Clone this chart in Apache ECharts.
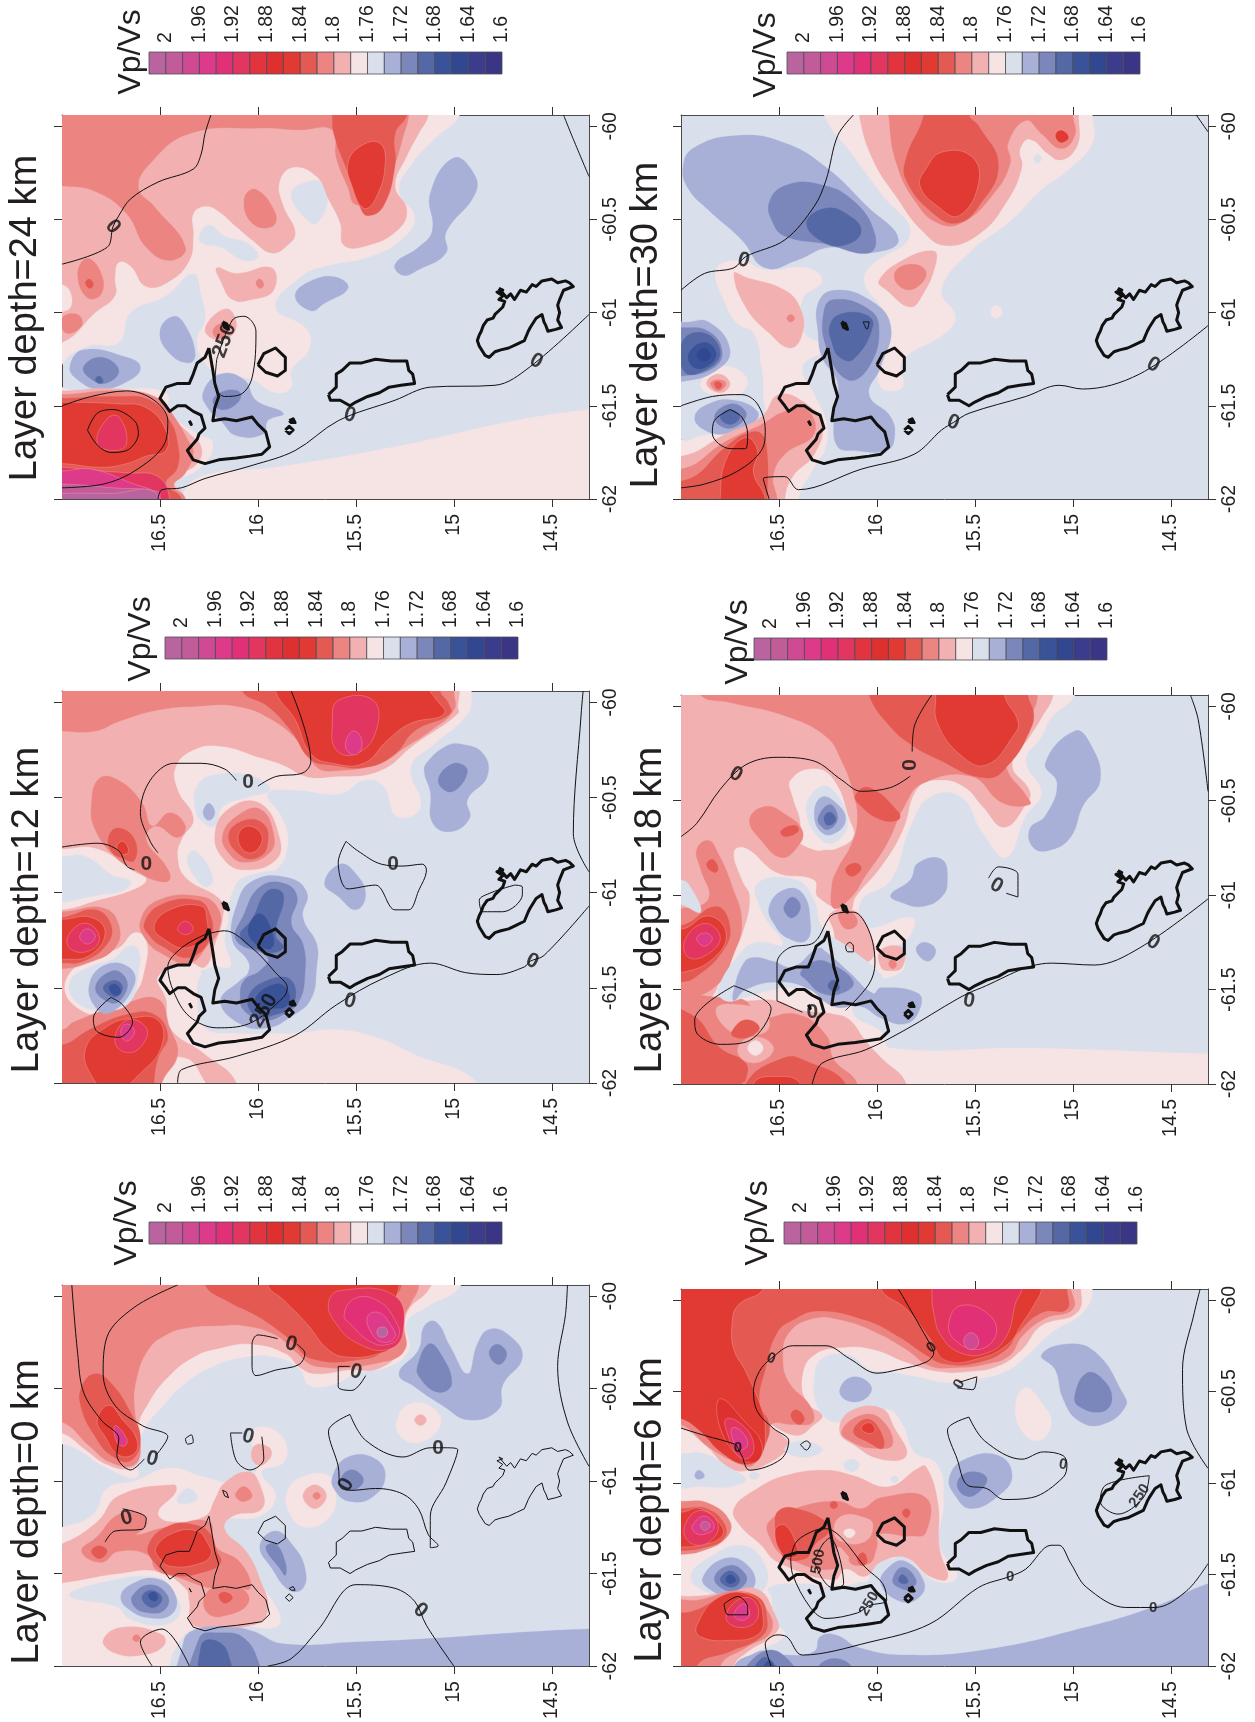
<!DOCTYPE html>
<html><head><meta charset="utf-8">
<style>html,body{margin:0;padding:0;background:#fff}#c{width:1255px;height:1722px}</style>
<script src="https://cdn.jsdelivr.net/npm/echarts@6/dist/echarts.min.js"></script>
</head><body><div id="c"></div>
<script>
// Colour scale: lower bound of each Vp/Vs class, and class colour
const barLevels=[2.0,1.98,1.96,1.94,1.92,1.90,1.88,1.86,1.84,1.82,1.80,1.78,1.76,1.74,1.72,1.70,1.68,1.66,1.64,1.62,1.60];
const barColors=['#B9649F','#C25C98','#CF4A93','#DD3A8A','#E23077','#E2355F','#E2343F','#DF3030','#E03A33','#E45A52','#EC8581','#F2B0B0','#F6E3E3','#DADFEC','#A8B0D8','#7B87BA','#5468A6','#3A5298','#31478F','#3C3C8C','#3A3585'];
const barTicks=[1.6,1.64,1.68,1.72,1.76,1.8,1.84,1.88,1.92,1.96,2];
const latTicks=[14.5,15,15.5,16,16.5];
const lonTicks=[-62,-61.5,-61,-60.5,-60];

// Coastlines [lat,lon,...]
const martinique=[14.77,-60.87,14.75,-60.88,14.78,-60.89,14.75,-60.91,14.77,-60.93,14.74,-60.94,14.75,-60.97,14.77,-60.99,14.79,-61.01,14.8,-61.03,14.83,-61.04,14.85,-61.07,14.86,-61.1,14.87,-61.12,14.88,-61.15,14.87,-61.18,14.84,-61.23,14.82,-61.24,14.79,-61.21,14.76,-61.2,14.72,-61.19,14.68,-61.17,14.64,-61.15,14.62,-61.1,14.61,-61.08,14.58,-61.03,14.55,-61.01,14.54,-61.05,14.53,-61.07,14.52,-61.1,14.48,-61.09,14.45,-61.08,14.47,-61.04,14.46,-61.0,14.47,-60.96,14.46,-60.93,14.44,-60.88,14.39,-60.86,14.41,-60.84,14.43,-60.83,14.47,-60.84,14.5,-60.82,14.55,-60.83,14.58,-60.86,14.6,-60.85,14.63,-60.89,14.66,-60.88,14.69,-60.93,14.71,-60.9,14.73,-60.92,14.77,-60.87];
const dominica=[15.64,-61.44,15.62,-61.42,15.6,-61.4,15.6,-61.33,15.57,-61.31,15.53,-61.27,15.47,-61.27,15.4,-61.25,15.32,-61.26,15.24,-61.26,15.23,-61.31,15.21,-61.33,15.2,-61.38,15.27,-61.39,15.33,-61.4,15.38,-61.43,15.44,-61.45,15.5,-61.48,15.53,-61.5,15.58,-61.47,15.63,-61.47,15.64,-61.44];
const guadeloupe=[16.25,-61.19,16.27,-61.24,16.31,-61.27,16.33,-61.33,16.35,-61.38,16.41,-61.38,16.47,-61.4,16.5,-61.46,16.47,-61.5,16.45,-61.53,16.41,-61.5,16.37,-61.5,16.33,-61.53,16.29,-61.55,16.27,-61.62,16.3,-61.65,16.31,-61.68,16.36,-61.74,16.33,-61.79,16.27,-61.81,16.2,-61.79,16.11,-61.78,16.04,-61.77,15.98,-61.76,15.94,-61.72,15.96,-61.64,16.0,-61.6,16.03,-61.56,16.11,-61.58,16.17,-61.57,16.23,-61.58,16.22,-61.51,16.2,-61.45,16.22,-61.38,16.23,-61.31,16.25,-61.19];
const marieGalante=[16.0,-61.28,15.97,-61.22,15.91,-61.19,15.86,-61.24,15.86,-61.31,15.9,-61.34,15.96,-61.32,16.0,-61.28];
const saintesA=[15.86,-61.63,15.84,-61.61,15.82,-61.63,15.84,-61.65,15.86,-61.63];
const saintesB=[15.84,-61.58,15.82,-61.57,15.81,-61.59,15.83,-61.59,15.84,-61.58];
const desirade=[16.18,-61.05,16.16,-61.06,16.15,-61.09,16.17,-61.08,16.18,-61.05];
const ilet=[16.35,-61.58,16.34,-61.58,16.34,-61.6,16.35,-61.6,16.35,-61.58];

// ===== Depth 0 km =====
const bands0=[
[1.76,[17.2,-59.8,14.95,-59.8,14.97,-59.95,15.14,-60.06,15.24,-60.14,15.23,-60.29,15.33,-60.38,15.5,-60.42,15.62,-60.48,15.74,-60.48,15.79,-60.39,15.91,-60.33,16.07,-60.33,16.23,-60.38,16.37,-60.47,16.49,-60.6,16.58,-60.72,16.62,-60.86,16.62,-60.98,16.77,-60.93,16.92,-60.83,17,-60.8,17.2,-60.78]],
[1.78,[17.2,-59.8,15.1,-59.8,15.12,-59.95,15.24,-60.09,15.26,-60.27,15.38,-60.39,15.54,-60.4,15.7,-60.42,15.78,-60.39,15.86,-60.31,16.03,-60.26,16.19,-60.28,16.33,-60.33,16.47,-60.45,16.56,-60.58,16.61,-60.7,16.6,-60.86,16.65,-60.93,16.77,-60.91,16.88,-60.83,17,-60.74,17.2,-60.7]],
[1.80,[17.2,-59.8,15.18,-59.8,15.18,-59.95,15.22,-60.04,15.26,-60.13,15.25,-60.29,15.38,-60.36,15.7,-60.38,15.81,-60.3,15.91,-60.21,16.07,-60.16,16.19,-60.16,16.35,-60.17,16.47,-60.21,16.56,-60.29,16.62,-60.45,16.63,-60.61,16.6,-60.8,16.63,-60.91,16.75,-60.9,16.86,-60.81,17,-60.68,17.2,-60.65]],
[1.82,[16.27,-59.8,16.27,-59.94,16.15,-60.03,16.0,-60.11,15.84,-60.23,15.72,-60.34,15.46,-60.34,15.36,-60.29,15.33,-60.17,15.34,-60.06,15.27,-59.95,15.27,-59.8]],
[1.84,[15.95,-59.8,15.95,-59.94,15.87,-60.02,15.75,-60.15,15.64,-60.29,15.54,-60.33,15.38,-60.31,15.3,-60.26,15.26,-60.16,15.3,-60.06,15.28,-59.94,15.28,-59.8]],
[1.90,[15.64,-60.04,15.58,-59.97,15.3,-60,15.26,-60.2,15.34,-60.29,15.5,-60.25,15.6,-60.15]],
[1.92,[15.56,-60.1,15.5,-60.01,15.38,-60.03,15.3,-60.13,15.28,-60.21,15.33,-60.26,15.42,-60.25,15.52,-60.16]],
[1.94,[15.44,-60.11,15.38,-60.09,15.32,-60.16,15.3,-60.22,15.36,-60.25,15.42,-60.2]],
[2.0,[15.39,-60.18,15.35,-60.17,15.34,-60.21,15.38,-60.22]],
[1.82,[16.83,-60.42,16.75,-60.47,16.65,-60.63,16.6,-60.77,16.65,-60.89,16.75,-60.86,16.83,-60.76,16.9,-60.61,16.9,-60.49]],
[1.84,[16.76,-60.59,16.69,-60.67,16.62,-60.77,16.63,-60.85,16.71,-60.86,16.78,-60.76,16.82,-60.67]],
[1.94,[16.73,-60.7,16.67,-60.77,16.68,-60.81,16.72,-60.79]],
[1.76,[17.1,-61.26,17,-61.25,16.84,-61.18,16.77,-61.04,16.63,-61,16.45,-60.93,16.27,-60.98,16.11,-61.01,16.01,-60.95,16.03,-60.74,15.95,-60.71,15.86,-60.79,15.87,-60.9,15.98,-60.95,15.91,-61.08,15.99,-61.19,16.19,-61.22,16.11,-61.38,16.01,-61.53,15.89,-61.72,15.91,-61.79,16.11,-61.78,16.33,-61.8,16.43,-61.92,16.47,-62.01,17.1,-62.2]],
[1.78,[17.1,-61.35,17,-61.34,16.82,-61.22,16.71,-61.08,16.43,-61.02,16.42,-61.06,16.51,-61.17,16.45,-61.22,16.27,-61.19,16.22,-61.1,16.17,-61.01,16.05,-60.95,15.99,-61.02,15.98,-61.15,16.13,-61.19,16.17,-61.26,16.06,-61.38,15.99,-61.53,15.95,-61.7,16.03,-61.78,16.33,-61.78,16.35,-61.65,16.37,-61.58,16.51,-61.49,16.71,-61.5,17,-61.55,17.1,-61.55]],
[1.74,[16.39,-61.06,16.35,-61.04,16.31,-61.09,16.35,-61.12,16.41,-61.11]],
[1.80,[16.11,-61.06,16.07,-61.03,16.03,-61.08,16.07,-61.11,16.11,-61.09]],
[1.80,[16.9,-61.38,16.82,-61.3,16.71,-61.18,16.59,-61.18,16.57,-61.24,16.62,-61.29,16.47,-61.25,16.25,-61.22,16.22,-61.35,16.09,-61.44,16.04,-61.58,16.15,-61.56,16.23,-61.58,16.41,-61.52,16.52,-61.48,16.56,-61.4,16.71,-61.38,16.8,-61.44]],
[1.80,[16.27,-61.62,16.18,-61.56,16.07,-61.59,16.05,-61.66,16.14,-61.72,16.25,-61.72]],
[1.82,[16.56,-61.35,16.45,-61.24,16.31,-61.24,16.24,-61.29,16.21,-61.38,16.19,-61.44,16.27,-61.49,16.43,-61.51,16.52,-61.45]],
[1.84,[16.52,-61.36,16.43,-61.28,16.31,-61.27,16.26,-61.33,16.24,-61.4,16.31,-61.45,16.45,-61.46,16.5,-61.42]],
[1.82,[16.85,-61.38,16.81,-61.35,16.77,-61.38,16.81,-61.42]],
[1.82,[16.2,-61.62,16.17,-61.6,16.13,-61.63,16.17,-61.66]],
[1.78,[16.03,-60.83,15.99,-60.8,15.93,-60.84,15.97,-60.91,16.02,-60.9]],
[1.76,[15.85,-61.06,15.78,-60.98,15.64,-60.97,15.6,-61.08,15.64,-61.2,15.76,-61.25,15.84,-61.17]],
[1.78,[15.77,-61.08,15.71,-61.02,15.65,-61.08,15.71,-61.15]],
[1.80,[15.72,-61.08,15.7,-61.06,15.68,-61.08,15.7,-61.1]],
[1.76,[15.29,-60.67,15.22,-60.58,15.1,-60.61,15.07,-60.7,15.17,-60.79,15.27,-60.76]],
[1.78,[15.2,-60.67,15.17,-60.64,15.14,-60.67,15.17,-60.7]],
[1.78,[16.79,-61.86,16.69,-61.79,16.49,-61.83,16.48,-61.89,16.59,-61.94,16.73,-61.93]],
[1.80,[16.64,-61.85,16.62,-61.83,16.6,-61.85,16.62,-61.87]],
[1.74,[16.96,-61.62,16.8,-61.55,16.52,-61.52,16.43,-61.6,16.4,-61.72,16.5,-61.78,16.66,-61.74,16.72,-61.68]],
[1.72,[16.7,-61.63,16.65,-61.56,16.51,-61.53,16.42,-61.62,16.44,-61.72,16.55,-61.74,16.65,-61.7]],
[1.70,[16.64,-61.62,16.55,-61.56,16.46,-61.62,16.48,-61.7,16.57,-61.71,16.63,-61.68]],
[1.68,[16.59,-61.62,16.54,-61.59,16.49,-61.63,16.52,-61.68,16.57,-61.67]],
[1.66,[16.56,-61.62,16.53,-61.6,16.51,-61.63,16.53,-61.65]],
[1.72,[16.38,-62.2,16.38,-61.87,16.31,-61.8,16.15,-61.79,16.03,-61.81,15.87,-61.88,15.5,-61.87,15.1,-61.85,14.69,-61.82,14.31,-61.8,14.1,-61.8,14.1,-62.2]],
[1.70,[16.33,-62.2,16.3,-61.85,16.19,-61.82,16.07,-61.85,15.99,-62.0,15.95,-62.2]],
[1.68,[16.28,-62.2,16.29,-61.89,16.22,-61.86,16.15,-61.94,16.13,-62.2]],
[1.72,[15.99,-61.35,15.91,-61.27,15.82,-61.35,15.76,-61.47,15.77,-61.58,15.84,-61.59,15.93,-61.47]],
[1.70,[15.96,-61.36,15.91,-61.34,15.86,-61.44,15.86,-61.51,15.89,-61.47]],
[1.72,[15.62,-60.98,15.54,-60.87,15.4,-60.88,15.35,-60.98,15.42,-61.09,15.53,-61.11,15.6,-61.06]],
[1.70,[15.58,-61,15.53,-60.94,15.47,-60.97,15.47,-61.02,15.54,-61.05]],
[1.72,[15.28,-60.42,15.18,-60.29,15.15,-60.16,15.09,-60.14,15.02,-60.27,14.93,-60.42,14.88,-60.26,14.82,-60.18,14.72,-60.21,14.65,-60.33,14.75,-60.48,14.77,-60.61,14.92,-60.67,15.06,-60.59,15.2,-60.49]],
[1.70,[15.18,-60.36,15.13,-60.26,15.08,-60.29,15.01,-60.47,15.08,-60.52,15.18,-60.43]],
[1.70,[14.82,-60.31,14.78,-60.26,14.73,-60.31,14.77,-60.37]]
];
const lines0=[
[16.95,-59.94,16.92,-60.31,16.89,-60.52,16.8,-60.67,16.71,-60.77,16.72,-60.86,16.65,-60.94,16.58,-60.88],
[16.52,-60.86,16.46,-60.76,16.59,-60.7,16.73,-60.59,16.79,-60.42,16.77,-60.22,16.63,-60.06,16.41,-59.94],
[15.9,-60.23,16,-60.21,16.03,-60.26,16.03,-60.38,16.01,-60.43,15.91,-60.4,15.79,-60.37,15.76,-60.31,15.8,-60.26],
[15.53,-60.38,15.59,-60.38,15.59,-60.49,15.52,-60.51,15.45,-60.43],
[16.37,-60.77,16.34,-60.75,16.33,-60.79,16.36,-60.8,16.37,-60.77],
[16.08,-60.74,16.14,-60.74,16.11,-60.89,16.04,-60.94,15.97,-60.88,15.98,-60.76],
[15.53,-60.64,15.64,-60.73,15.59,-60.92,15.58,-61.03,15.52,-61.05,15.4,-61.04,15.26,-61.07,15.18,-61.15,15.13,-61.29,15.08,-61.35,15.12,-61.36,15.12,-61.19,15.04,-61.01,14.98,-60.83,15.04,-60.82,15.12,-60.82,15.26,-60.87,15.45,-60.78,15.53,-60.64],
[15.95,-62,15.83,-61.96,15.69,-61.8,15.5,-61.56,15.3,-61.58,15.2,-61.65,15.14,-61.78,15,-62],
[16.54,-62,16.6,-61.87,16.49,-61.8,16.35,-62],
[16.69,-61.15,16.57,-61.2,16.59,-61.26,16.73,-61.27,16.78,-61.33],
[14.42,-59.94,14.43,-60.1,14.47,-60.38,14.42,-60.68,14.31,-60.92]
];
const labels0=[[16.54,-60.88,'0',-15],[15.83,-60.26,'0',-15],[15.5,-60.41,'0',-15],[16.05,-60.76,'0',-15],[15.08,-60.82,'0',0],[15.55,-61.02,'0',60],[15.17,-61.7,'0',-40],[16.67,-61.2,'0',15]];

// ===== Depth 6 km =====
const bands6=[
[1.72,[14.31,-61.55,14.57,-61.67,14.94,-61.79,15.44,-61.91,15.85,-61.94,16.09,-61.9,16.21,-61.83,16.29,-61.84,16.32,-61.92,16.47,-61.94,16.61,-61.92,16.73,-62.0,16.73,-62.2,14.1,-62.2,14.1,-61.5]],
[1.70,[16.69,-62.1,16.61,-61.94,16.49,-61.93,16.4,-62.1]],
[1.70,[16.3,-62.1,16.28,-61.98,16.15,-61.98,16.12,-62.1]],
[1.68,[16.65,-62.1,16.57,-61.95,16.49,-62.1]],
[1.66,[16.6,-62.1,16.55,-61.97,16.51,-62.1]],
[1.76,[17.2,-59.8,14.95,-59.8,14.9,-59.94,14.95,-60.07,15.11,-60.18,15.24,-60.31,15.34,-60.39,15.48,-60.43,15.65,-60.45,15.79,-60.42,15.95,-60.39,16.04,-60.38,16.14,-60.3,16.28,-60.32,16.32,-60.43,16.3,-60.59,16.2,-60.67,15.95,-60.6,15.87,-60.68,15.81,-60.83,15.69,-60.9,15.66,-61.1,15.68,-61.34,15.59,-61.51,15.69,-61.54,15.85,-61.43,16.01,-61.44,16.06,-61.55,16.22,-61.58,16.51,-61.57,16.52,-61.75,16.47,-61.83,16.61,-61.92,16.73,-62,16.75,-62.2,17.2,-62.2]],
[1.78,[17.2,-59.8,15.0,-59.8,14.96,-59.94,14.98,-60.07,15.16,-60.14,15.26,-60.27,15.38,-60.36,15.52,-60.39,15.69,-60.39,15.85,-60.34,16.02,-60.27,16.18,-60.26,16.32,-60.3,16.38,-60.41,16.36,-60.56,16.28,-60.63,16.32,-60.68,16.41,-60.74,16.55,-60.68,16.45,-60.78,16.47,-60.83,16.57,-60.9,16.65,-60.93,16.75,-60.92,16.88,-60.79,17,-60.7,17.2,-60.68]],
[1.80,[17.2,-59.8,15.05,-59.8,15.01,-59.94,15,-60.05,15.14,-60.1,15.26,-60.2,15.32,-60.3,15.44,-60.35,15.61,-60.37,15.73,-60.36,15.85,-60.27,16.02,-60.17,16.18,-60.11,16.32,-60.1,16.45,-60.18,16.48,-60.32,16.45,-60.45,16.34,-60.58,16.33,-60.67,16.43,-60.68,16.54,-60.68,16.57,-60.79,16.63,-60.9,16.69,-60.9,16.85,-60.81,17,-60.68,17.2,-60.65]],
[1.82,[17.2,-59.8,15.03,-59.8,15.03,-59.94,15.03,-60.05,15.16,-60.07,15.28,-60.18,15.34,-60.27,15.48,-60.34,15.65,-60.35,15.75,-60.3,15.89,-60.2,16.06,-60.11,16.3,-60.06,16.43,-60.11,16.51,-60.18,16.57,-60.38,16.6,-60.56,16.55,-60.68,16.57,-60.79,16.63,-60.88,16.69,-60.87,16.84,-60.78,17,-60.63,17.2,-60.6]],
[1.84,[17.2,-59.8,16.58,-59.8,16.58,-59.94,16.71,-60.03,16.74,-60.14,16.73,-60.27,16.67,-60.39,16.59,-60.59,16.57,-60.7,16.59,-60.85,16.67,-60.9,16.8,-60.83,16.9,-60.72,17,-60.65,17.2,-60.6]],
[1.84,[15.98,-59.8,15.98,-59.94,15.85,-60.05,15.73,-60.21,15.65,-60.33,15.48,-60.32,15.33,-60.24,15.26,-60.13,15.2,-60.03,15.16,-59.94,15.16,-59.8]],
[1.90,[15.72,-59.8,15.72,-59.94,15.71,-60.07,15.67,-60.2,15.57,-60.29,15.44,-60.29,15.34,-60.2,15.29,-60.01,15.26,-59.94,15.26,-59.8]],
[1.92,[15.63,-60.11,15.57,-60.03,15.44,-60.07,15.39,-60.18,15.48,-60.27,15.61,-60.21]],
[1.96,[15.55,-60.2,15.51,-60.18,15.48,-60.23,15.51,-60.27,15.55,-60.25]],
[1.86,[16.8,-60.54,16.67,-60.67,16.59,-60.78,16.61,-60.88,16.69,-60.87,16.8,-60.7]],
[1.90,[16.77,-60.65,16.69,-60.68,16.63,-60.78,16.65,-60.86,16.71,-60.85,16.76,-60.74]],
[1.94,[16.74,-60.7,16.69,-60.72,16.66,-60.79,16.7,-60.82,16.73,-60.78]],
[1.82,[16.44,-60.63,16.41,-60.6,16.37,-60.65,16.4,-60.68]],
[1.74,[17.2,-60.84,17,-60.84,16.88,-60.84,16.75,-60.92,16.67,-60.98,16.75,-61.02,16.92,-61.02,17,-61.03,17.2,-61.03]],
[1.72,[16.93,-60.96,16.91,-60.93,16.88,-60.96,16.91,-60.98]],
[1.74,[16.65,-60.96,16.63,-60.94,16.6,-60.96,16.63,-60.98]],
[1.74,[16.47,-60.81,16.39,-60.77,16.28,-60.81,16.32,-60.85,16.43,-60.85]],
[1.74,[16.17,-60.9,16.13,-60.87,16.09,-60.9,16.13,-60.94]],
[1.74,[15.93,-60.98,15.91,-60.96,15.89,-60.98,15.91,-61]],
[1.74,[16.26,-60.43,16.2,-60.34,16.04,-60.38,15.98,-60.47,16.02,-60.56,16.2,-60.61,16.28,-60.56]],
[1.72,[16.19,-60.49,16.12,-60.42,16.03,-60.47,16.06,-60.54,16.15,-60.55]],
[1.78,[16.73,-61.14,16.61,-61.03,16.47,-60.96,16.26,-60.93,16.12,-60.96,15.94,-61.02,15.79,-60.92,15.75,-60.91,15.69,-61.1,15.68,-61.36,15.64,-61.52,15.73,-61.51,15.85,-61.41,15.98,-61.43,16.06,-61.51,16.16,-61.47,16.22,-61.53,16.51,-61.43,16.59,-61.34,16.7,-61.23]],
[1.80,[16.55,-61.21,16.42,-61.14,16.2,-61.1,16.08,-61.14,15.98,-61.08,15.75,-61.08,15.75,-61.27,15.83,-61.29,15.99,-61.28,16.0,-61.35,16.04,-61.44,16.12,-61.42,16.2,-61.35,16.22,-61.47,16.47,-61.4,16.55,-61.29]],
[1.78,[16.22,-61.26,16.18,-61.18,16.06,-61.19,16.02,-61.23,16.06,-61.32,16.18,-61.32]],
[1.76,[16.17,-61.27,16.14,-61.25,16.11,-61.27,16.14,-61.3]],
[1.80,[16.12,-61.37,16.06,-61.33,16.02,-61.41,16.08,-61.45,16.14,-61.43]],
[1.82,[16.1,-61.41,16.07,-61.38,16.05,-61.43,16.08,-61.45]],
[1.82,[16.52,-61.23,16.5,-61.15,16.41,-61.14,16.26,-61.21,16.24,-61.26,16.32,-61.34,16.36,-61.41,16.47,-61.41,16.5,-61.32]],
[1.84,[16.52,-61.26,16.47,-61.23,16.41,-61.34,16.41,-61.4,16.48,-61.39]],
[1.82,[16.24,-61.12,16.22,-61.1,16.2,-61.12,16.22,-61.14]],
[1.82,[15.87,-61.16,15.85,-61.14,15.83,-61.16,15.85,-61.19]],
[1.78,[16.19,-60.72,16.14,-60.61,15.98,-60.59,15.91,-60.7,15.85,-60.85,15.98,-60.87,16.12,-60.79]],
[1.80,[16.18,-60.72,16.08,-60.63,15.98,-60.65,15.92,-60.79,16.02,-60.81,16.12,-60.78]],
[1.82,[16.12,-60.72,16.05,-60.65,15.98,-60.72,15.97,-60.81,16.04,-60.78]],
[1.84,[16.08,-60.7,16.04,-60.67,16.01,-60.71,16.04,-60.73]],
[1.80,[17.2,-61.1,17,-61.1,16.86,-61.11,16.75,-61.21,16.77,-61.3,16.89,-61.37,17,-61.39,17.2,-61.39]],
[1.82,[17.2,-61.14,17,-61.14,16.87,-61.14,16.78,-61.22,16.78,-61.3,16.87,-61.35,17,-61.37,17.2,-61.37]],
[1.84,[17.2,-61.16,17,-61.16,16.9,-61.14,16.79,-61.24,16.8,-61.3,16.9,-61.34,17,-61.35,17.2,-61.35]],
[1.90,[16.98,-61.23,16.9,-61.15,16.81,-61.23,16.87,-61.33,16.96,-61.32]],
[1.94,[16.94,-61.23,16.88,-61.18,16.83,-61.24,16.88,-61.28,16.93,-61.27]],
[1.98,[16.9,-61.23,16.88,-61.21,16.85,-61.23,16.88,-61.26]],
[1.74,[16.95,-61.51,16.86,-61.41,16.69,-61.34,16.58,-61.43,16.57,-61.57,16.69,-61.64,16.88,-61.59]],
[1.72,[16.89,-61.52,16.77,-61.41,16.65,-61.46,16.63,-61.57,16.75,-61.62,16.84,-61.59]],
[1.70,[16.83,-61.52,16.75,-61.45,16.67,-61.5,16.68,-61.56,16.76,-61.59]],
[1.68,[16.8,-61.53,16.75,-61.48,16.7,-61.53,16.74,-61.57]],
[1.66,[16.77,-61.53,16.75,-61.5,16.72,-61.53,16.75,-61.55]],
[1.74,[16,-61.55,15.95,-61.44,15.85,-61.41,15.75,-61.55,15.77,-61.64,15.87,-61.66,15.98,-61.64]],
[1.72,[15.98,-61.55,15.93,-61.45,15.85,-61.43,15.76,-61.54,15.78,-61.62,15.87,-61.65]],
[1.70,[15.92,-61.53,15.87,-61.46,15.8,-61.53,15.83,-61.58,15.89,-61.57]],
[1.68,[15.89,-61.53,15.87,-61.5,15.84,-61.54,15.87,-61.55]],
[1.74,[16.55,-61.57,16.39,-61.55,16.22,-61.57,16.02,-61.55,15.93,-61.68,16.01,-61.75,16.3,-61.81,16.34,-61.68,16.53,-61.62]],
[1.78,[17.2,-61.6,16.97,-61.62,16.77,-61.6,16.61,-61.58,16.52,-61.72,16.51,-61.81,16.67,-61.93,16.73,-62,16.75,-62.2,17.2,-62.2]],
[1.80,[17.2,-61.65,16.92,-61.64,16.69,-61.59,16.57,-61.68,16.54,-61.81,16.67,-61.9,16.8,-62,16.8,-62.2,17.2,-62.2]],
[1.82,[17.2,-61.75,16.94,-61.7,16.77,-61.62,16.61,-61.62,16.56,-61.75,16.59,-61.84,16.75,-61.92,16.92,-62,16.92,-62.2,17.2,-62.2]],
[1.84,[16.92,-61.78,16.8,-61.62,16.63,-61.62,16.58,-61.74,16.61,-61.83,16.75,-61.86,16.9,-61.84]],
[1.90,[16.77,-61.74,16.71,-61.64,16.63,-61.64,16.61,-61.74,16.69,-61.79]],
[1.94,[16.73,-61.72,16.68,-61.66,16.65,-61.72,16.69,-61.75]],
[1.72,[15.16,-60.3,15.02,-60.24,14.88,-60.29,14.75,-60.5,14.73,-60.58,14.85,-60.68,14.97,-60.66,15.05,-60.54,15.09,-60.38]],
[1.70,[14.99,-60.52,14.93,-60.4,14.85,-60.43,14.8,-60.54,14.85,-60.61,14.97,-60.58]],
[1.76,[15.29,-60.56,15.24,-60.48,15.16,-60.56,15.11,-60.68,15.18,-60.77,15.27,-60.7]],
[1.72,[15.63,-60.97,15.55,-60.87,15.38,-60.85,15.31,-60.96,15.38,-61.07,15.52,-61.14,15.6,-61.07]],
[1.70,[15.59,-61,15.53,-60.94,15.44,-60.97,15.48,-61.05,15.55,-61.07]]
];
const lines6=[
[17,-60.7,16.88,-60.74,16.72,-60.79,16.71,-60.81,16.69,-60.85,16.65,-60.93,16.49,-60.87,16.45,-60.77,16.53,-60.7,16.61,-60.61,16.63,-60.5,16.6,-60.39,16.54,-60.32,16.43,-60.25,16.26,-60.25,16.14,-60.32,16,-60.4,15.89,-60.38,15.75,-60.34,15.71,-60.29,15.72,-60.26,15.75,-60.2,15.89,-59.94],
[15.58,-60.45,15.49,-60.42,15.51,-60.49,15.59,-60.48],
[16.39,-60.79,16.36,-60.77,16.34,-60.79,16.36,-60.82,16.39,-60.79],
[15.53,-60.64,15.64,-60.71,15.59,-60.87,15.54,-61.01,15.44,-61.03,15.35,-61.09,15.21,-61.08,15.05,-60.97,15.03,-60.9,15.05,-60.85,15.15,-60.83,15.26,-60.87,15.45,-60.77,15.53,-60.64],
[16.54,-62,16.57,-61.88,16.51,-61.83,16.46,-61.84,16.38,-61.94,16.04,-61.87,15.73,-61.77,15.48,-61.57,15.32,-61.51,15.24,-61.47,15.11,-61.34,15.07,-61.34,15.01,-61.44,14.93,-61.57,14.73,-61.68,14.58,-61.68,14.42,-61.59,14.31,-61.44],
[16.78,-61.66,16.71,-61.62,16.66,-61.68,16.66,-61.72,16.76,-61.72,16.78,-61.66],
[16.44,-61.41,16.43,-61.5,16.34,-61.68,16.26,-61.74,16.1,-61.71,16.04,-61.67,15.95,-61.64,15.97,-61.55,16.06,-61.46,16.18,-61.3,16.26,-61.25,16.32,-61.26,16.41,-61.32,16.44,-61.41],
[16.32,-61.43,16.28,-61.34,16.24,-61.3,16.17,-61.55,16.23,-61.57,16.28,-61.52,16.32,-61.43],
[14.61,-60.96,14.83,-61.01,14.86,-61.1,14.77,-61.17,14.64,-61.08,14.61,-60.96],
[14.35,-59.94,14.38,-60.07,14.44,-60.38,14.42,-60.7,14.31,-60.92]
];
const labels6=[[16.71,-60.81,'0',0],[16.54,-60.32,'0',-20],[15.72,-60.26,'0',40],[15.58,-60.46,'0',60],[15.05,-60.9,'0',-10],[15.32,-61.51,'0',0],[14.59,-61.68,'0',0],[16.3,-61.43,'500',80],[16.04,-61.66,'250',60],[14.66,-61.07,'250',55]];

// ===== Depth 12 km =====
const bands12=[
[1.76,[17.2,-59.8,14.91,-59.8,14.91,-59.94,14.93,-60.06,15.1,-60.22,15.22,-60.34,15.17,-60.55,15.29,-60.6,15.36,-60.44,15.46,-60.41,15.58,-60.48,15.82,-60.46,15.95,-60.48,15.87,-60.62,15.85,-60.76,15.91,-60.88,16.11,-60.97,16.14,-61.11,16.17,-61.25,16.14,-61.39,16.23,-61.39,16.29,-61.43,16.31,-61.55,16.27,-61.71,16.11,-61.74,15.95,-61.74,15.81,-61.74,15.6,-61.72,15.4,-61.76,15.2,-61.85,14.88,-62,14.88,-62.2,17.2,-62.2]],
[1.78,[17.2,-59.8,14.97,-59.8,14.97,-59.94,14.98,-60.02,14.98,-60.06,15.2,-60.22,15.38,-60.36,15.62,-60.39,15.75,-60.39,15.87,-60.33,15.99,-60.29,16.19,-60.23,16.33,-60.25,16.42,-60.34,16.41,-60.46,16.33,-60.61,16.39,-60.72,16.41,-60.81,16.37,-60.92,16.19,-61.04,16.18,-61.13,16.22,-61.27,16.27,-61.39,16.35,-61.37,16.51,-61.44,16.47,-61.56,16.45,-61.71,16.27,-61.85,16.11,-62,16.11,-62.2,17.2,-62.2]],
[1.76,[16.53,-62.1,16.49,-61.9,16.37,-61.87,16.29,-61.96,16.25,-62.1]],
[1.76,[17.2,-60.77,17,-60.77,16.82,-60.77,16.63,-60.89,16.57,-60.93,16.63,-60.98,16.82,-61.04,17,-61.09,17.2,-61.09]],
[1.76,[16.98,-61.46,16.85,-61.34,16.71,-61.29,16.63,-61.21,16.57,-61.25,16.58,-61.41,16.63,-61.53,16.77,-61.64,16.94,-61.59]],
[1.80,[17.2,-59.8,15.0,-59.8,15,-59.94,15,-60.04,15.12,-60.15,15.24,-60.23,15.38,-60.32,15.62,-60.36,15.7,-60.34,15.78,-60.22,15.93,-60.09,16.11,-60.02,16.31,-60.02,16.51,-60.04,16.71,-60.1,16.83,-60.15,17,-60.15,17.2,-60.13]],
[1.82,[16.08,-59.8,16.08,-59.94,15.95,-60.02,15.83,-60.15,15.73,-60.3,15.62,-60.33,15.44,-60.34,15.3,-60.27,15.2,-60.15,15.02,-60.06,15.03,-60,15.07,-59.94,15.07,-59.8]],
[1.84,[15.9,-59.8,15.91,-59.94,15.81,-60.09,15.73,-60.27,15.62,-60.32,15.46,-60.32,15.34,-60.2,15.22,-60.11,15.05,-60.06,15.1,-59.97,15.12,-59.94,15.12,-59.8]],
[1.90,[15.62,-60.11,15.59,-59.99,15.41,-59.99,15.4,-60.16,15.5,-60.27,15.6,-60.25]],
[1.94,[15.55,-60.2,15.51,-60.15,15.47,-60.2,15.49,-60.27,15.54,-60.26]],
[1.80,[16.85,-60.54,16.81,-60.4,16.71,-60.41,16.59,-60.53,16.54,-60.65,16.45,-60.58,16.37,-60.65,16.41,-60.71,16.52,-60.65,16.57,-60.72,16.47,-60.86,16.45,-60.93,16.51,-60.94,16.63,-60.88,16.73,-60.81,16.83,-60.67]],
[1.82,[16.76,-60.7,16.71,-60.66,16.63,-60.72,16.63,-60.83,16.69,-60.82,16.75,-60.78]],
[1.84,[16.72,-60.76,16.69,-60.73,16.66,-60.78,16.69,-60.8]],
[1.74,[16.31,-60.44,16.22,-60.38,16.02,-60.39,15.94,-60.46,16.06,-60.5,16.18,-60.55,16.22,-60.65,16.28,-60.63,16.32,-60.56]],
[1.74,[16.36,-60.82,16.32,-60.78,16.23,-60.92,16.26,-60.97,16.32,-60.92]],
[1.74,[17.2,-60.81,17,-60.81,16.88,-60.81,16.74,-60.91,16.65,-60.94,16.69,-60.99,16.8,-61.01,16.9,-61.03,17,-61.05,17.2,-61.05]],
[1.72,[16.28,-60.58,16.25,-60.53,16.22,-60.58,16.25,-60.62]],
[1.78,[16.22,-60.7,16.15,-60.56,15.99,-60.53,15.89,-60.71,15.91,-60.83,16.07,-60.88,16.17,-60.83]],
[1.80,[16.18,-60.7,16.11,-60.6,15.99,-60.56,15.92,-60.69,15.94,-60.79,16.07,-60.84,16.15,-60.79]],
[1.82,[16.15,-60.7,16.07,-60.62,15.97,-60.64,15.95,-60.74,15.99,-60.81,16.08,-60.81]],
[1.84,[16.1,-60.7,16.05,-60.65,15.98,-60.7,16.01,-60.78,16.07,-60.78]],
[1.80,[17.2,-61.08,17,-61.1,16.79,-61.08,16.71,-61.17,16.73,-61.29,16.87,-61.37,17,-61.4,17.2,-61.4]],
[1.82,[17.2,-61.13,17,-61.13,16.83,-61.09,16.75,-61.17,16.77,-61.27,16.89,-61.36,17,-61.37,17.2,-61.37]],
[1.84,[17.2,-61.14,17,-61.14,16.85,-61.13,16.78,-61.21,16.86,-61.33,17,-61.35,17.2,-61.35]],
[1.90,[16.97,-61.23,16.88,-61.16,16.81,-61.23,16.85,-61.3,16.95,-61.3]],
[1.94,[16.91,-61.23,16.87,-61.19,16.83,-61.23,16.87,-61.27]],
[1.80,[16.6,-61.15,16.51,-61.04,16.29,-61.02,16.2,-61.09,16.2,-61.2,16.25,-61.27,16.35,-61.37,16.49,-61.32,16.57,-61.25]],
[1.82,[16.58,-61.16,16.49,-61.06,16.31,-61.04,16.25,-61.1,16.24,-61.23,16.35,-61.34,16.49,-61.28,16.55,-61.23]],
[1.84,[16.53,-61.18,16.45,-61.09,16.29,-61.07,16.26,-61.14,16.27,-61.23,16.37,-61.29,16.47,-61.25]],
[1.90,[16.41,-61.19,16.37,-61.15,16.33,-61.19,16.37,-61.22]],
[1.80,[17.2,-61.7,17,-61.72,16.94,-61.68,16.67,-61.58,16.51,-61.56,16.45,-61.71,16.41,-61.85,16.49,-62,16.53,-62.2,17.2,-62.2]],
[1.82,[17.2,-61.8,17,-61.8,16.86,-61.72,16.67,-61.64,16.53,-61.64,16.46,-61.75,16.51,-61.87,16.53,-62,16.53,-62.2,17.2,-62.2]],
[1.84,[16.88,-61.82,16.78,-61.71,16.65,-61.66,16.51,-61.67,16.49,-61.8,16.59,-61.94,16.75,-62.05,16.85,-61.96]],
[1.90,[16.73,-61.78,16.67,-61.67,16.57,-61.71,16.59,-61.8,16.67,-61.84]],
[1.94,[16.7,-61.73,16.67,-61.69,16.63,-61.73,16.67,-61.78]],
[1.74,[16.96,-61.47,16.86,-61.39,16.74,-61.35,16.66,-61.28,16.61,-61.3,16.61,-61.42,16.65,-61.57,16.77,-61.62,16.92,-61.58]],
[1.72,[16.86,-61.48,16.78,-61.38,16.66,-61.39,16.63,-61.48,16.75,-61.63,16.83,-61.6]],
[1.70,[16.83,-61.5,16.74,-61.41,16.67,-61.46,16.69,-61.55,16.75,-61.58]],
[1.68,[16.79,-61.5,16.73,-61.46,16.69,-61.5,16.73,-61.55]],
[1.66,[16.76,-61.5,16.73,-61.48,16.7,-61.52,16.73,-61.54]],
[1.74,[16.13,-61,16.07,-60.92,15.85,-60.9,15.75,-61.02,15.76,-61.13,15.7,-61.27,15.69,-61.4,15.71,-61.56,15.81,-61.67,15.95,-61.73,16.11,-61.71,16.21,-61.57,16.29,-61.42,16.23,-61.4,16.13,-61.38,16.13,-61.25,16.15,-61.11]],
[1.72,[16.11,-61.07,16.03,-60.94,15.85,-60.92,15.75,-61,15.77,-61.13,15.7,-61.27,15.7,-61.39,15.73,-61.56,15.83,-61.65,15.95,-61.71,16.09,-61.69,16.19,-61.57,16.09,-61.46,16.05,-61.42,16.05,-61.36,16.13,-61.25]],
[1.70,[16.07,-61.11,15.99,-60.97,15.87,-60.95,15.8,-61.02,15.83,-61.16,15.77,-61.27,15.76,-61.43,15.79,-61.57,15.87,-61.64,15.97,-61.67,16.07,-61.62,16.09,-61.55,16.07,-61.46,15.99,-61.41,15.95,-61.34,16.11,-61.25]],
[1.68,[16.03,-61.14,15.95,-60.99,15.87,-61.01,15.91,-61.22,15.87,-61.29,15.97,-61.31,16.09,-61.23]],
[1.68,[16.05,-61.55,15.95,-61.46,15.83,-61.46,15.82,-61.59,15.91,-61.64,16.01,-61.65]],
[1.66,[16.05,-61.19,15.99,-61.11,15.93,-61.2,15.93,-61.29,16.01,-61.27]],
[1.66,[16.01,-61.55,15.91,-61.48,15.85,-61.51,15.85,-61.59,15.93,-61.61,15.99,-61.61]],
[1.74,[16.27,-61.44,16.21,-61.42,16.2,-61.55,16.25,-61.57,16.28,-61.49]],
[1.72,[15.14,-60.32,15.04,-60.23,14.96,-60.22,14.85,-60.27,14.83,-60.39,14.93,-60.51,14.92,-60.61,15.02,-60.68,15.11,-60.63,15.12,-60.47,15.15,-60.37]],
[1.70,[15.08,-60.41,15,-60.32,14.93,-60.36,15.01,-60.47]],
[1.72,[15.66,-60.95,15.58,-60.85,15.5,-60.9,15.45,-61.01,15.5,-61.09,15.59,-61.02]]
];
const lines12=[
[17,-60.76,16.82,-60.74,16.71,-60.78,16.67,-60.86,16.63,-60.88],
[16.51,-60.79,16.55,-60.73,16.6,-60.58,16.55,-60.41,16.43,-60.32,16.29,-60.32,16.17,-60.35,16.11,-60.41],
[16.0,-60.44,15.91,-60.39,15.77,-60.37,15.73,-60.31,15.83,-59.94],
[15.55,-60.73,15.59,-60.84,15.54,-60.98,15.4,-60.96,15.3,-61.09,15.23,-61.09,15.18,-60.99,15.14,-60.88,15.16,-60.85,15.26,-60.86,15.37,-60.85,15.49,-60.78,15.55,-60.73],
[16.41,-62,16.39,-61.93,16.11,-61.86,15.81,-61.75,15.6,-61.59,15.36,-61.45,15.12,-61.37,14.94,-61.42,14.78,-61.43,14.64,-61.39,14.61,-61.36,14.54,-61.33,14.31,-61.07],
[14.34,-59.94,14.35,-60.06,14.39,-60.69,14.31,-60.89],
[16.75,-61.55,16.84,-61.66,16.82,-61.73,16.71,-61.76,16.64,-61.68,16.69,-61.59,16.75,-61.55],
[16.27,-61.22,16.39,-61.29,16.46,-61.39,16.43,-61.52,16.35,-61.65,16.21,-61.71,16.05,-61.69,15.87,-61.55,15.85,-61.5,15.91,-61.42,16.03,-61.29,16.17,-61.2,16.27,-61.22],
[14.69,-60.96,14.81,-61,14.87,-61.04,14.85,-61.1,14.75,-61.1,14.65,-61.01,14.65,-60.97,14.69,-60.96]
];
const labels12=[[16.57,-60.85,'0',0],[16.05,-60.42,'0',0],[15.31,-60.85,'0',0],[15.53,-61.57,'0',-15],[14.6,-61.36,'0',-25],[15.97,-61.62,'250',60]];

// ===== Depth 18 km =====
const bands18=[
[1.76,[17.2,-59.8,14.99,-59.8,14.99,-59.94,15.11,-60.06,15.16,-60.16,15.24,-60.29,15.16,-60.46,15.24,-60.58,15.34,-60.8,15.46,-60.67,15.57,-60.48,15.73,-60.48,15.83,-60.64,15.93,-60.92,16.08,-61.03,16.06,-61.17,15.82,-61.12,15.85,-61.24,15.95,-61.28,15.87,-61.33,15.87,-61.4,15.98,-61.45,16.08,-61.51,16.12,-61.63,15.98,-61.72,15.93,-61.81,15.24,-61.81,14.31,-61.84,14.1,-61.84,14.1,-62.2,17.2,-62.2]],
[1.78,[17.2,-59.8,15.1,-59.8,15.1,-59.94,15.16,-60.06,15.22,-60.16,15.31,-60.31,15.22,-60.45,15.24,-60.52,15.35,-60.64,15.46,-60.53,15.55,-60.43,15.67,-60.39,15.79,-60.43,15.87,-60.66,15.98,-60.85,16.11,-61.01,16.14,-61.08,16.3,-61.01,16.32,-60.92,16.51,-60.88,16.67,-60.75,16.73,-60.77,16.69,-60.92,16.65,-61.01,16.69,-61.21,16.75,-61.33,16.82,-61.5,16.84,-61.56,16.67,-61.56,16.51,-61.56,16.39,-61.61,16.22,-61.63,16.14,-61.66,16.06,-61.77,15.98,-61.86,15.85,-62,15.85,-62.2,17.2,-62.2]],
[1.76,[16.44,-60.39,16.32,-60.33,16.22,-60.39,16.14,-60.6,16.12,-60.69,16.2,-60.75,16.26,-60.76,16.32,-60.76,16.41,-60.7,16.39,-60.62,16.43,-60.48]],
[1.78,[15.98,-61.29,15.87,-61.28,15.87,-61.38,15.93,-61.4,15.98,-61.38]],
[1.80,[15.94,-61.36,15.92,-61.34,15.9,-61.37,15.92,-61.39]],
[1.78,[16.24,-61.1,16.12,-61.08,16.04,-61.19,16.02,-61.33,16.14,-61.35,16.2,-61.28,16.22,-61.19]],
[1.80,[16.19,-61.09,16.13,-61.09,16.1,-61.15,16.15,-61.18,16.19,-61.14]],
[1.80,[16.92,-59.8,15.2,-59.8,15.18,-59.94,15.22,-60.06,15.3,-60.2,15.34,-60.32,15.24,-60.47,15.22,-60.52,15.36,-60.51,15.52,-60.37,15.77,-60.41,15.86,-60.53,15.95,-60.73,16.06,-60.9,16.13,-61.01,16.22,-61.07,16.23,-60.95,16.2,-60.86,16.13,-60.73,16.1,-60.6,16.12,-60.46,16.18,-60.29,16.26,-60.16,16.47,-60.05,16.75,-59.98,16.9,-59.94]],
[1.82,[16.04,-59.8,16.04,-59.94,15.93,-60.11,15.83,-60.2,15.71,-60.27,15.44,-60.38,15.32,-60.3,15.22,-60.13,15.2,-60.04,15.23,-59.94,15.23,-59.8]],
[1.84,[15.7,-59.8,15.7,-59.94,15.69,-60.09,15.57,-60.26,15.44,-60.31,15.3,-60.15,15.28,-60.08,15.35,-59.94,15.35,-59.8]],
[1.82,[16.11,-60.47,16.04,-60.43,15.89,-60.56,15.89,-60.6,15.98,-60.6,16.09,-60.52]],
[1.82,[16.16,-60.86,16.11,-60.83,16.08,-60.86,16.13,-60.9]],
[1.80,[16.65,-60.6,16.57,-60.53,16.47,-60.57,16.38,-60.66,16.41,-60.75,16.49,-60.8,16.59,-60.71]],
[1.82,[16.49,-60.66,16.42,-60.63,16.4,-60.66,16.47,-60.69]],
[1.80,[16.92,-60.76,16.86,-60.71,16.81,-60.78,16.74,-60.95,16.69,-61.14,16.73,-61.31,16.82,-61.48,17,-61.55,17.2,-61.55,17.2,-61.07,17,-61.07,16.86,-61.02,16.9,-60.86]],
[1.82,[16.87,-60.84,16.84,-60.81,16.81,-60.86,16.83,-60.88]],
[1.74,[17.2,-60.92,17,-60.92,16.95,-60.96,16.9,-61.09,17,-61.05,17.2,-61]],
[1.82,[17.2,-61.13,17,-61.16,16.82,-61.06,16.75,-61.17,16.79,-61.3,16.92,-61.43,17,-61.46,17.2,-61.46]],
[1.84,[17.2,-61.14,17,-61.18,16.86,-61.11,16.77,-61.2,16.83,-61.33,17,-61.41,17.2,-61.41]],
[1.90,[16.98,-61.24,16.88,-61.15,16.8,-61.22,16.86,-61.31,16.96,-61.33]],
[1.94,[16.92,-61.23,16.88,-61.2,16.84,-61.23,16.88,-61.27]],
[1.80,[17.2,-61.55,16.8,-61.54,16.67,-61.56,16.61,-61.65,16.41,-61.63,16.26,-61.74,16.22,-61.87,16.1,-62,16.1,-62.2,17.2,-62.2]],
[1.82,[17.2,-61.6,16.95,-61.63,16.8,-61.81,16.67,-61.89,16.67,-61.98,16.69,-62,16.69,-62.2,17.2,-62.2]],
[1.82,[16.67,-62,16.47,-61.86,16.36,-61.88,16.16,-62,16.16,-62.2,16.67,-62.2]],
[1.84,[16.63,-62,16.53,-61.96,16.39,-62,16.39,-62.2,16.63,-62.2]],
[1.78,[16.71,-61.81,16.63,-61.75,16.53,-61.8,16.57,-61.87,16.67,-61.88]],
[1.76,[16.66,-61.81,16.62,-61.77,16.58,-61.81,16.62,-61.85]],
[1.78,[16.82,-61.6,16.7,-61.58,16.58,-61.62,16.55,-61.7,16.62,-61.74,16.75,-61.72]],
[1.82,[16.74,-61.72,16.67,-61.66,16.6,-61.7,16.65,-61.75,16.73,-61.75]],
[1.74,[16.61,-60.94,16.41,-60.92,16.32,-61.03,16.28,-61.17,16.14,-61.28,15.98,-61.42,15.95,-61.5,16.06,-61.54,16.26,-61.52,16.43,-61.49,16.53,-61.5,16.67,-61.54,16.77,-61.56,16.81,-61.5,16.69,-61.3,16.61,-61.25,16.48,-61.26,16.58,-61.1]],
[1.74,[16.36,-60.56,16.32,-60.45,16.24,-60.43,16.15,-60.6,16.2,-60.71,16.28,-60.71]],
[1.72,[16.32,-60.57,16.28,-60.48,16.2,-60.52,16.16,-60.6,16.21,-60.67,16.28,-60.67]],
[1.70,[16.3,-60.59,16.24,-60.52,16.2,-60.59,16.24,-60.65,16.28,-60.64]],
[1.68,[16.27,-60.59,16.24,-60.56,16.21,-60.6,16.25,-60.63]],
[1.72,[16.55,-61.06,16.47,-60.97,16.38,-60.99,16.34,-61.14,16.36,-61.24,16.45,-61.23,16.52,-61.16]],
[1.70,[16.47,-61.05,16.43,-61.01,16.39,-61.06,16.43,-61.12,16.47,-61.09]],
[1.72,[16.73,-61.5,16.68,-61.36,16.63,-61.33,16.53,-61.35,16.43,-61.38,16.3,-61.28,16.26,-61.3,16.14,-61.41,16.02,-61.52,15.98,-61.49,15.79,-61.52,15.78,-61.6,15.85,-61.68,15.98,-61.65,16.08,-61.59,16.22,-61.59,16.36,-61.49,16.51,-61.46,16.67,-61.5,16.73,-61.56]],
[1.70,[16.39,-61.41,16.32,-61.35,16.24,-61.36,16.12,-61.46,16.18,-61.52,16.28,-61.52,16.36,-61.45]],
[1.68,[16.25,-61.48,16.22,-61.45,16.19,-61.49,16.22,-61.51]],
[1.72,[15.8,-61.29,15.76,-61.25,15.7,-61.29,15.74,-61.35]],
[1.72,[15.93,-61,15.83,-60.92,15.79,-60.83,15.67,-60.81,15.64,-60.92,15.67,-61.01,15.77,-61.06,15.87,-61.04]],
[1.72,[15.22,-60.65,15.14,-60.58,15.08,-60.41,15.14,-60.3,14.99,-60.13,14.91,-60.2,14.86,-60.39,14.95,-60.53,15.01,-60.69,15.11,-60.76,15.2,-60.75]]
];
const lines18=[
[17,-60.69,16.92,-60.62,16.8,-60.44,16.67,-60.31,16.51,-60.27,16.32,-60.29,16.18,-60.39,16.08,-60.45,15.93,-60.43,15.83,-60.37],
[15.82,-60.24,15.81,-60.11,15.72,-59.94],
[16.73,-61.48,16.93,-61.66,16.92,-61.73,16.8,-61.79,16.65,-61.77,16.54,-61.6,16.73,-61.48],
[16.33,-62,16.28,-61.89,16.06,-61.82,15.85,-61.71,15.59,-61.55,15.49,-61.5,15.11,-61.36,14.89,-61.37,14.66,-61.28,14.31,-61.02],
[16.51,-61.56,16.51,-61.36,16.45,-61.28,16.32,-61.25,16.22,-61.1,16.12,-61.09,16.04,-61.19,16.01,-61.36,16.04,-61.47,16.16,-61.61],
[16.51,-61.56,16.38,-61.62],
[16.16,-61.27,16.14,-61.25,16.12,-61.27,16.12,-61.3,16.15,-61.3,16.16,-61.27],
[15.43,-60.91,15.38,-60.85,15.28,-60.89,15.28,-61.01,15.34,-60.99],
[14.4,-59.94,14.36,-60.07,14.31,-60.45]
];
const labels18=[[16.72,-60.36,'0',-30],[15.83,-60.31,'0',90],[15.53,-61.56,'0',-10],[14.59,-61.25,'0',-30],[16.33,-61.62,'0',0],[15.39,-60.95,'0',-30]];

// ===== Depth 24 km =====
const bands24=[
[1.76,[14.31,-61.52,14.69,-61.58,15.3,-61.72,15.91,-61.83,16.29,-61.88,16.39,-62,16.39,-62.2,14.1,-62.2,14.1,-61.5]],
[1.76,[17.2,-59.8,14.97,-59.8,14.97,-59.94,15.09,-60.06,15.22,-60.21,15.28,-60.35,15.2,-60.49,15.27,-60.61,15.43,-60.7,15.65,-60.75,15.77,-60.8,15.91,-60.97,15.75,-61.09,15.74,-61.2,15.83,-61.31,15.83,-61.4,15.91,-61.43,16.03,-61.36,16.19,-61.33,16.27,-61.27,16.31,-61.15,16.27,-61.04,16.29,-60.9,16.33,-60.79,16.47,-60.91,16.65,-61,16.71,-61.16,16.87,-61.18,17,-61.28,17,-61.4,16.71,-61.41,16.47,-61.43,16.45,-61.54,16.31,-61.65,16.23,-61.7,16.29,-61.83,16.43,-61.92,16.39,-62,16.39,-62.2,17.2,-62.2]],
[1.74,[16.3,-60.59,16.25,-60.53,16.17,-60.59,16.05,-60.63,16,-60.7,16.07,-60.72,16.19,-60.65,16.28,-60.63]],
[1.74,[15.83,-60.37,15.78,-60.31,15.66,-60.3,15.64,-60.38,15.7,-60.52,15.76,-60.49]],
[1.78,[17.2,-59.8,15.13,-59.8,15.13,-59.94,15.18,-60.04,15.24,-60.16,15.3,-60.32,15.24,-60.45,15.29,-60.56,15.44,-60.64,15.56,-60.64,15.58,-60.52,15.64,-60.39,15.7,-60.27,15.82,-60.22,15.89,-60.3,15.87,-60.43,15.81,-60.57,15.85,-60.64,15.93,-60.68,16.03,-60.61,16.11,-60.54,16.21,-60.45,16.27,-60.43,16.33,-60.47,16.33,-60.59,16.35,-60.72,16.45,-60.83,16.57,-60.86,16.65,-60.75,16.71,-60.73,16.73,-60.81,16.73,-60.91,16.83,-61,17,-61.16,17.2,-61.16]],
[1.76,[17.2,-60.85,17,-60.85,16.95,-60.92,16.98,-60.99,17.2,-60.99]],
[1.78,[16.21,-60.76,16.11,-60.79,15.93,-60.76,15.92,-60.88,16.03,-60.93,16.13,-60.93,16.19,-60.83]],
[1.80,[16.01,-60.84,15.99,-60.82,15.97,-60.85,15.99,-60.87]],
[1.78,[16.27,-61.09,16.16,-60.98,16.11,-61.08,16.19,-61.15]],
[1.80,[16.23,-61.1,16.19,-61.06,16.16,-61.1,16.2,-61.14]],
[1.80,[17.2,-59.8,15.23,-59.8,15.23,-59.94,15.26,-60.06,15.3,-60.2,15.38,-60.38,15.5,-60.42,15.54,-60.33,15.6,-60.17,15.62,-60.02,15.79,-60.02,15.99,-60.01,16.35,-60.04,16.55,-60.2,16.61,-60.33,16.53,-60.43,16.37,-60.65,16.45,-60.72,16.57,-60.65,16.67,-60.47,16.83,-60.35,17,-60.32,17.2,-60.3]],
[1.82,[15.62,-59.8,15.62,-59.94,15.61,-60.05,15.54,-60.25,15.48,-60.43,15.44,-60.48,15.36,-60.43,15.3,-60.21,15.3,-60.04,15.24,-59.94,15.24,-59.8]],
[1.84,[15.54,-60.2,15.48,-60.11,15.38,-60.09,15.35,-60.2,15.4,-60.39,15.46,-60.44,15.52,-60.32]],
[1.80,[16.07,-60.39,16.01,-60.34,15.91,-60.47,15.93,-60.54,16.03,-60.52]],
[1.80,[16.92,-60.79,16.87,-60.71,16.8,-60.79,16.8,-60.9,16.87,-60.92]],
[1.82,[16.88,-60.84,16.86,-60.82,16.84,-60.85,16.86,-60.87]],
[1.80,[17,-61.03,16.92,-61.01,16.9,-61.07,16.98,-61.11]],
[1.72,[16.96,-61.29,16.89,-61.2,16.67,-61.24,16.6,-61.29,16.65,-61.36,16.81,-61.41,16.92,-61.36]],
[1.70,[16.89,-61.29,16.8,-61.24,16.71,-61.31,16.78,-61.38,16.86,-61.35]],
[1.68,[16.83,-61.36,16.81,-61.34,16.79,-61.37,16.81,-61.38]],
[1.72,[16.5,-61.1,16.43,-61.02,16.37,-61.07,16.32,-61.22,16.35,-61.27,16.45,-61.22]],
[1.72,[16.28,-61.43,16.19,-61.33,16.07,-61.36,16.01,-61.47,15.87,-61.54,15.95,-61.58,15.97,-61.65,16.11,-61.66,16.19,-61.58,16.25,-61.52]],
[1.70,[16.23,-61.47,16.17,-61.42,16.09,-61.43,16.11,-61.49,16.19,-61.52]],
[1.72,[15.81,-60.91,15.73,-60.83,15.6,-60.81,15.54,-60.87,15.66,-60.95,15.73,-60.99]],
[1.72,[15.3,-60.74,15.18,-60.65,15.11,-60.56,15.12,-60.36,15,-60.17,14.9,-60.25,14.89,-60.36,15.04,-60.57,15.04,-60.68,15.18,-60.77,15.26,-60.8]],
[1.78,[17.2,-61.42,17,-61.42,16.71,-61.41,16.49,-61.47,16.43,-61.57,16.35,-61.65,16.29,-61.72,16.31,-61.81,16.43,-61.9,16.37,-62,16.37,-62.2,17.2,-62.2]],
[1.80,[17.2,-61.44,17,-61.44,16.71,-61.42,16.51,-61.46,16.42,-61.57,16.36,-61.68,16.33,-61.75,16.37,-61.86,16.43,-61.93,16.37,-62,16.37,-62.2,17.2,-62.2]],
[1.82,[17.2,-61.46,17,-61.46,16.71,-61.45,16.55,-61.47,16.45,-61.58,16.41,-61.7,16.41,-61.83,16.47,-61.92,16.39,-62,16.39,-62.2,17.2,-62.2]],
[1.84,[17.2,-61.48,17,-61.48,16.71,-61.49,16.57,-61.51,16.47,-61.63,16.47,-61.74,16.57,-61.77,16.67,-61.81,16.8,-61.83,17,-61.81,17.2,-61.81]],
[1.90,[17.2,-61.83,17,-61.83,16.8,-61.85,16.67,-61.86,16.51,-61.88,16.45,-62,16.45,-62.2,17.2,-62.2]],
[1.94,[17.2,-61.85,17,-61.85,16.85,-61.84,16.63,-61.92,16.53,-61.96,16.51,-62,16.51,-62.2,17.2,-62.2]],
[1.98,[17.2,-61.93,17,-61.92,16.74,-61.94,16.51,-61.96,16.5,-62,16.5,-62.2,17.2,-62.2]],
[2.0,[17.2,-61.98,17,-61.97,16.75,-61.97,16.52,-61.97,16.5,-62.2,17.2,-62.2]],
[1.90,[16.82,-61.7,16.77,-61.57,16.71,-61.56,16.67,-61.7,16.73,-61.74]],
[1.82,[16.63,-61.83,16.61,-61.81,16.59,-61.83,16.61,-61.85]]
];
const lines24=[
[17,-61.5,16.85,-61.45,16.67,-61.42,16.53,-61.47,16.46,-61.58,16.48,-61.71,16.63,-61.85,16.79,-61.92,17,-61.94],
[16.87,-61.63,16.82,-61.54,16.74,-61.52,16.63,-61.58,16.61,-61.65,16.67,-61.74,16.75,-61.75,16.82,-61.71,16.87,-61.63],
[16.24,-59.94,16.27,-60.04,16.29,-60.15,16.33,-60.23,16.51,-60.3,16.65,-60.39,16.71,-60.48,16.74,-60.54,16.77,-60.65,17,-60.74],
[16.51,-62,16.49,-61.95,16.39,-61.94,16.27,-61.89,16.03,-61.82,15.81,-61.74,15.59,-61.58,15.3,-61.47,15.12,-61.4,14.79,-61.39,14.61,-61.29,14.31,-61.01],
[14.44,-59.94,14.39,-60.07,14.31,-60.27],
[16.21,-61.25,16.13,-61.04,16.07,-61.02,16.01,-61.1,16.03,-61.35,16.09,-61.44,16.17,-61.45,16.22,-61.39,16.21,-61.25]
];
const labels24=[[16.74,-60.54,'0',-50],[15.53,-61.55,'0',-15],[14.58,-61.26,'0',-30],[16.17,-61.15,'250',70]];

// ===== Depth 30 km =====
const bands30=[
[1.76,[16.27,-59.8,16.27,-59.94,16.12,-60.16,15.98,-60.36,15.83,-60.58,16.04,-60.76,16.06,-60.85,15.98,-60.97,15.93,-61.11,15.98,-61.24,15.98,-61.4,15.87,-61.4,15.87,-61.26,15.65,-61.11,15.6,-61.02,15.67,-60.88,15.52,-60.67,15.32,-60.51,15.16,-60.34,15.03,-60.24,14.9,-60.09,14.9,-59.94,14.9,-59.8]],
[1.76,[15.42,-61.0,15.39,-60.96,15.36,-61.0,15.39,-61.03]],
[1.74,[15.18,-60.17,15.16,-60.14,15.14,-60.17,15.16,-60.2]],
[1.76,[16.82,-60.77,16.7,-60.72,16.57,-60.77,16.36,-60.76,16.28,-60.83,16.38,-60.93,16.37,-61.11,16.26,-61.19,16.38,-61.29,16.32,-61.44,16.26,-61.58,16.26,-61.72,16.32,-61.83,16.4,-62,16.4,-62.2,17.2,-62.2,17.2,-61.42,17,-61.68,16.88,-61.65,16.59,-61.6,16.58,-61.43,16.59,-61.28,16.63,-61.11,16.71,-61.06,16.77,-60.96]],
[1.74,[17.2,-61.05,17,-61.05,16.86,-61.05,16.7,-61.2,16.66,-61.4,16.6,-61.5,16.6,-61.6,16.9,-61.66,17,-61.68,17.2,-61.66]],
[1.76,[16.9,-61.38,16.8,-61.29,16.67,-61.34,16.69,-61.43,16.84,-61.44]],
[1.78,[16.87,-61.38,16.81,-61.33,16.75,-61.38,16.8,-61.43]],
[1.80,[16.85,-61.38,16.81,-61.36,16.77,-61.38,16.81,-61.42]],
[1.82,[16.83,-61.38,16.81,-61.37,16.79,-61.39,16.81,-61.41]],
[1.72,[16.99,-60.23,16.94,-60.12,16.71,-60.05,16.47,-60.09,16.26,-60.22,16.06,-60.42,15.89,-60.61,16.04,-60.68,16.24,-60.65,16.41,-60.72,16.57,-60.76,16.69,-60.61,16.86,-60.45,16.96,-60.34]],
[1.70,[16.55,-60.41,16.47,-60.32,16.3,-60.31,16.12,-60.4,16.01,-60.58,16.04,-60.68,16.27,-60.63,16.47,-60.59,16.53,-60.52]],
[1.68,[16.36,-60.52,16.26,-60.44,16.14,-60.48,16.08,-60.56,16.14,-60.63,16.26,-60.63]],
[1.72,[17.2,-60.98,17,-61.05,16.86,-61.05,16.75,-61.2,16.82,-61.31,17,-61.37,17.2,-61.37]],
[1.70,[17.2,-61.08,17,-61.08,16.86,-61.1,16.79,-61.21,16.84,-61.3,17,-61.34,17.2,-61.34]],
[1.68,[16.99,-61.15,16.88,-61.11,16.8,-61.21,16.86,-61.3,16.98,-61.32]],
[1.66,[16.96,-61.22,16.88,-61.16,16.82,-61.22,16.87,-61.29,16.94,-61.29]],
[1.64,[16.92,-61.23,16.88,-61.19,16.85,-61.23,16.88,-61.26]],
[1.72,[16.93,-61.56,16.86,-61.49,16.73,-61.47,16.61,-61.53,16.63,-61.59,16.77,-61.65,16.88,-61.63]],
[1.70,[16.83,-61.56,16.75,-61.49,16.67,-61.53,16.69,-61.59,16.77,-61.62]],
[1.68,[16.8,-61.56,16.75,-61.52,16.7,-61.56,16.75,-61.6]],
[1.72,[16.3,-60.95,16.22,-60.88,16.04,-60.93,15.93,-61.07,15.98,-61.29,16.04,-61.44,15.93,-61.56,15.91,-61.67,15.95,-61.74,16.12,-61.74,16.2,-61.72,16.22,-61.58,16.2,-61.38,16.28,-61.24,16.3,-61.11]],
[1.70,[16.27,-60.99,16.22,-60.93,16.06,-60.97,15.99,-61.07,16.04,-61.29,16.15,-61.36,16.26,-61.18]],
[1.68,[16.24,-61.07,16.19,-61.01,16.06,-61.01,16.02,-61.07,16.12,-61.25,16.19,-61.24,16.23,-61.16]],
[1.78,[15.99,-60.83,15.87,-60.72,15.71,-60.67,15.7,-60.74,15.77,-60.91,15.83,-60.97,15.95,-60.88]],
[1.80,[15.91,-60.79,15.83,-60.74,15.75,-60.78,15.79,-60.86,15.87,-60.87]],
[1.78,[16.73,-60.79,16.67,-60.81,16.47,-60.88,16.39,-60.98,16.38,-61.11,16.44,-61.19,16.55,-61.11,16.67,-60.97]],
[1.80,[16.46,-61.03,16.44,-61.01,16.42,-61.03,16.44,-61.05]],
[1.78,[16.09,-59.8,16.09,-59.94,16.02,-60.18,15.9,-60.38,15.77,-60.56,15.65,-60.64,15.48,-60.58,15.34,-60.41,15.26,-60.22,15.27,-60.13,15.22,-60.07,15.08,-60.18,14.98,-60.11,14.97,-59.94,14.97,-59.8]],
[1.76,[15.27,-60.13,15.21,-60.08,15.15,-60.13,15.09,-60.19,15.16,-60.2,15.22,-60.17]],
[1.74,[15.2,-60.17,15.18,-60.15,15.16,-60.17,15.18,-60.2]],
[1.80,[15.94,-59.8,15.94,-59.94,15.9,-60.2,15.8,-60.41,15.69,-60.52,15.57,-60.52,15.41,-60.37,15.32,-60.2,15.33,-60.09,15.24,-59.97,15.16,-60.04,15.06,-60.12,14.99,-60.05,15,-59.94,15,-59.8]],
[1.82,[15.76,-59.8,15.76,-59.94,15.85,-60.17,15.85,-60.29,15.71,-60.47,15.59,-60.52,15.48,-60.43,15.38,-60.21,15.48,-60,15.53,-59.94,15.53,-59.8]],
[1.84,[15.75,-60.23,15.67,-60.14,15.52,-60.16,15.48,-60.3,15.58,-60.48,15.69,-60.43,15.78,-60.32]],
[1.84,[15.09,-60.05,15.06,-60.02,15.02,-60.06,15.06,-60.09]],
[1.78,[17.2,-61.72,17,-61.77,16.77,-61.65,16.59,-61.56,16.5,-61.44,16.36,-61.49,16.28,-61.6,16.32,-61.76,16.43,-61.88,16.47,-62,16.47,-62.2,17.2,-62.2]],
[1.80,[17.2,-61.78,17,-61.84,16.77,-61.69,16.59,-61.6,16.47,-61.53,16.36,-61.52,16.32,-61.65,16.47,-61.76,16.53,-61.88,16.51,-62,16.51,-62.2,17.2,-62.2]],
[1.82,[17.2,-61.85,16.98,-61.9,16.77,-61.72,16.67,-61.65,16.59,-61.65,16.56,-61.76,16.56,-62,16.56,-62.2,17.2,-62.2]],
[1.84,[16.8,-62.2,16.8,-62,16.77,-61.79,16.67,-61.67,16.61,-61.74,16.63,-61.86,16.57,-62,16.57,-62.2]]
];
const lines30=[
[17,-60.88,16.88,-60.79,16.73,-60.76,16.67,-60.7,16.47,-60.61,16.32,-60.43,16.26,-60.29,16.2,-60.05,16.12,-59.94],
[17,-61.5,16.84,-61.45,16.69,-61.44,16.61,-61.49,16.57,-61.63,16.59,-61.74,16.71,-61.85,16.88,-61.92,17,-61.94],
[16.75,-61.52,16.83,-61.58,16.84,-61.65,16.75,-61.73,16.67,-61.73,16.66,-61.65,16.69,-61.56,16.75,-61.52],
[16.55,-62,16.58,-61.89,16.47,-61.88,16.4,-61.95,16.08,-61.84,15.81,-61.76,15.67,-61.63,15.61,-61.59,15.53,-61.54,15.24,-61.45,15.07,-61.39,14.95,-61.41,14.66,-61.33,14.31,-61.07],
[14.37,-59.94,14.31,-60.03],
[16.07,-61.05,16.04,-61.05,16.05,-61.09,16.07,-61.05]
];
const labels30=[[16.68,-60.72,'0',-15],[15.61,-61.59,'0',-20],[14.59,-61.28,'0',-30]];

const titles=['Layer depth=0 km','Layer depth=6 km','Layer depth=12 km','Layer depth=18 km','Layer depth=24 km','Layer depth=30 km'];
const bandSets=[bands0,bands6,bands12,bands18,bands24,bands30];
const lineSets=[lines0,lines6,lines12,lines18,lines24,lines30];
const labelSets=[labels0,labels6,labels12,labels18,labels24,labels30];
const islands=[martinique,dominica,guadeloupe,marieGalante,saintesA,saintesB,desirade,ilet];
const barName='Vp/Vs';

// ----- Layout (pixels) -----
const FONT='"Liberation Sans", Arial, sans-serif';
const INK='#231f20';
const layout=[
 {map:[62,1285,527,383],bar:[149,1222,353,22],title:[28,1512],name:[127,1223],island:1,zero:21},
 {map:[681,1289,527,380],bar:[784,1222,353,22],title:[651,1510],name:[758,1223],island:3,zero:15},
 {map:[62,691,527,392],bar:[165,637,353,22],title:[28,910],name:[141,639],island:3,zero:21},
 {map:[681,695,527,389],bar:[754,638,353,22],title:[651,910],name:[738,642],island:3,zero:21},
 {map:[62,115,527,384],bar:[149,52,353,22],title:[26,318],name:[131,52],island:3,zero:21},
 {map:[681,115,527,384],bar:[787,52,353,22],title:[647,325],name:[766,55],island:3,zero:21}
];
const colorOf=l=>barColors[barLevels.findIndex(v=>Math.abs(v-l)<0.001)];
const pairs=a=>{const o=[];for(let i=0;i<a.length;i+=2)o.push([a[i],a[i+1]]);return o;};

const grid=[],xAxis=[],yAxis=[],series=[],graphic=[];
const axisLine={show:true,onZero:false,lineStyle:{color:'#4a4a4a',width:1}};
const tick={show:true,length:8,lineStyle:{color:'#333',width:1}};
const labelFont={fontFamily:FONT,fontSize:19.5,color:INK,rotate:90};

layout.forEach((p,i)=>{
  // map panel: grid, latitude on x (decreasing), longitude on y
  const gi=grid.length;
  grid.push({left:p.map[0],top:p.map[1],width:p.map[2],height:p.map[3],show:true,borderWidth:0,backgroundColor:colorOf(1.74)});
  const xi=xAxis.length,yi=yAxis.length;
  xAxis.push({gridIndex:gi,type:'value',inverse:true,min:14.31,max:17,position:'bottom',splitLine:{show:false},axisLine,
    axisTick:{...tick,customValues:latTicks},axisLabel:{...labelFont,margin:15,customValues:latTicks,formatter:v=>String(v)}});
  xAxis.push({gridIndex:gi,type:'value',inverse:true,min:14.31,max:17,position:'top',splitLine:{show:false},axisLine,
    axisTick:{...tick,customValues:latTicks},axisLabel:{show:false}});
  yAxis.push({gridIndex:gi,type:'value',min:-62,max:-59.94,position:'right',splitLine:{show:false},axisLine,
    axisTick:{...tick,customValues:lonTicks},axisLabel:{...labelFont,margin:12,customValues:lonTicks,formatter:v=>String(v)}});
  yAxis.push({gridIndex:gi,type:'value',min:-62,max:-59.94,position:'left',splitLine:{show:false},axisLine,
    axisTick:{...tick,customValues:lonTicks},axisLabel:{show:false}});
  const bands=bandSets[i];
  series.push({type:'custom',xAxisIndex:xi,yAxisIndex:yi,coordinateSystem:'cartesian2d',clip:true,silent:true,animation:false,
    data:bands.map((b,k)=>[b[1][0],b[1][1],k]),encode:{x:0,y:1},
    renderItem:(params,api)=>{
      const b=bands[params.dataIndex];
      const pts=pairs(b[1]).map(c=>api.coord(c));
      return {type:'polygon',shape:{points:pts,smooth:0.45},
        style:{fill:colorOf(b[0]),stroke:b[0]>=1.84?'rgba(245,170,165,0.55)':colorOf(b[0]),lineWidth:b[0]>=1.84?0.7:0.3}};
    }});
  lineSets[i].forEach(l=>series.push({type:'line',xAxisIndex:xi,yAxisIndex:yi,data:pairs(l),smooth:0.35,showSymbol:false,silent:true,animation:false,clip:true,
    lineStyle:{color:'#111',width:1},z:3}));
  islands.forEach(l=>series.push({type:'line',xAxisIndex:xi,yAxisIndex:yi,data:pairs(l),smooth:false,showSymbol:false,silent:true,animation:false,clip:true,
    lineStyle:{color:'#111',width:p.island,join:'round'},z:4}));
  series.push({type:'scatter',xAxisIndex:xi,yAxisIndex:yi,symbolSize:1,silent:true,animation:false,itemStyle:{color:'rgba(0,0,0,0)'},z:5,
    data:labelSets[i].map(l=>({value:[l[0],l[1]],label:{show:true,position:'inside',formatter:l[2],rotate:l[3],fontFamily:FONT,fontWeight:'bold',fontSize:l[2]==='0'?p.zero:(p.zero<20?15:21),color:'#111'}}))});

  // colour bar
  const gb=grid.length;
  grid.push({left:p.bar[0],top:p.bar[1],width:p.bar[2],height:p.bar[3]});
  const xb=xAxis.length,yb=yAxis.length;
  xAxis.push({gridIndex:gb,type:'value',inverse:true,min:1.6,max:2.02,position:'top',splitLine:{show:false},axisLine:{show:false},axisTick:{show:false},
    axisLabel:{...labelFont,margin:9,customValues:barTicks,formatter:v=>String(+(+v).toFixed(2))}});
  yAxis.push({gridIndex:gb,type:'value',min:0,max:1,show:false});
  series.push({type:'custom',xAxisIndex:xb,yAxisIndex:yb,coordinateSystem:'cartesian2d',silent:true,animation:false,
    data:barLevels.map((l,k)=>[l,k]),encode:{x:0},
    renderItem:(params,api)=>{
      const l=api.value(0);
      const a=api.coord([l+0.02,1]),b=api.coord([l,0]);
      return {type:'rect',shape:{x:a[0],y:a[1],width:b[0]-a[0],height:b[1]-a[1]},style:{fill:colorOf(+l.toFixed(2)),stroke:'#4b4b55',lineWidth:0.8}};
    }});

  // rotated texts
  graphic.push({type:'text',x:p.title[0],y:p.title[1],rotation:Math.PI/2,silent:true,
    style:{text:titles[i],font:'38px '+FONT,fill:INK,textAlign:'center',textVerticalAlign:'middle'}});
  graphic.push({type:'text',x:p.name[0],y:p.name[1],rotation:Math.PI/2,silent:true,
    style:{text:barName,font:'32px '+FONT,fill:INK,textAlign:'center',textVerticalAlign:'middle'}});
});

const chart=echarts.init(document.getElementById('c'),null,{renderer:'canvas'});
chart.setOption({animation:false,backgroundColor:'#fff',grid,xAxis,yAxis,series,graphic});
</script></body></html>
